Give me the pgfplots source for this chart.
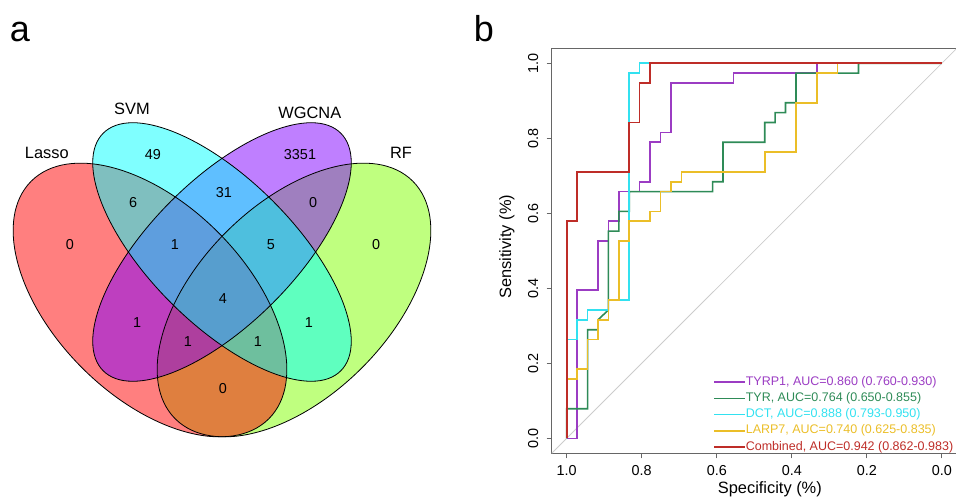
\documentclass[border=0pt]{standalone}
\usepackage{fontspec}
\setmainfont{Liberation Sans}
\usepackage{pgfplots}
\pgfplotsset{compat=1.18}

% venn fills (drawn at 50% opacity)
\definecolor{vRF}{RGB}{127,255,0}
\definecolor{vLasso}{RGB}{255,0,0}
\definecolor{vWG}{RGB}{127,0,255}
\definecolor{vSVM}{RGB}{0,255,255}
% roc curves
\definecolor{cTYRP}{RGB}{155,60,195}
\definecolor{cTYR}{RGB}{46,139,87}
\definecolor{cDCT}{RGB}{50,225,240}
\definecolor{cLARP}{RGB}{235,190,40}
\definecolor{cComb}{RGB}{190,45,40}

\newcommand{\fnum}{\fontsize{14.4}{16}\selectfont}
\newcommand{\fcat}{\fontsize{16.4}{18}\selectfont}

\begin{document}
\begin{tikzpicture}
\useasboundingbox (0,0) rectangle (956pt,501pt);

\node[font=\fontsize{36}{40}\selectfont, anchor=base] at (20pt,459pt) {a};
\node[font=\fontsize{36}{40}\selectfont, anchor=base] at (484pt,459pt) {b};

% ---- panel a: venn
\begin{axis}[at={(-18pt,-24.6pt)}, anchor=south west,
  x=480pt, y=480pt, xmin=0, xmax=1, ymin=0, ymax=1,
  hide axis, clip=false]
\fill[vRF, fill opacity=0.5, rotate around={45:(axis cs:0.65,0.47)}] (axis cs:0.65,0.47) ellipse [x radius=168pt, y radius=96pt];
\fill[vLasso, fill opacity=0.5, rotate around={-45:(axis cs:0.35,0.47)}] (axis cs:0.35,0.47) ellipse [x radius=168pt, y radius=96pt];
\fill[vWG, fill opacity=0.5, rotate around={45:(axis cs:0.5,0.57)}] (axis cs:0.5,0.57) ellipse [x radius=168pt, y radius=72pt];
\fill[vSVM, fill opacity=0.5, rotate around={-45:(axis cs:0.5,0.57)}] (axis cs:0.5,0.57) ellipse [x radius=168pt, y radius=72pt];
\draw[black, line width=0.8pt, rotate around={45:(axis cs:0.65,0.47)}] (axis cs:0.65,0.47) ellipse [x radius=168pt, y radius=96pt];
\draw[black, line width=0.8pt, rotate around={-45:(axis cs:0.35,0.47)}] (axis cs:0.35,0.47) ellipse [x radius=168pt, y radius=96pt];
\draw[black, line width=0.8pt, rotate around={45:(axis cs:0.5,0.57)}] (axis cs:0.5,0.57) ellipse [x radius=168pt, y radius=72pt];
\draw[black, line width=0.8pt, rotate around={-45:(axis cs:0.5,0.57)}] (axis cs:0.5,0.57) ellipse [x radius=168pt, y radius=72pt];

\node[font=\fcat] at (axis cs:0.135,0.776) {Lasso};
\node[font=\fcat] at (axis cs:0.3125,0.868) {SVM};
\node[font=\fcat] at (axis cs:0.683,0.860) {WGCNA};
\node[font=\fcat] at (axis cs:0.873,0.776) {RF};

\node[font=\fnum] at (axis cs:0.356,0.774) {49};
\node[font=\fnum] at (axis cs:0.6625,0.774) {3351};
\node[font=\fnum] at (axis cs:0.504,0.693) {31};
\node[font=\fnum] at (axis cs:0.315,0.672) {6};
\node[font=\fnum] at (axis cs:0.690,0.672) {0};
\node[font=\fnum] at (axis cs:0.183,0.585) {0};
\node[font=\fnum] at (axis cs:0.402,0.585) {1};
\node[font=\fnum] at (axis cs:0.602,0.585) {5};
\node[font=\fnum] at (axis cs:0.821,0.585) {0};
\node[font=\fnum] at (axis cs:0.502,0.474) {4};
\node[font=\fnum] at (axis cs:0.323,0.422) {1};
\node[font=\fnum] at (axis cs:0.681,0.422) {1};
\node[font=\fnum] at (axis cs:0.429,0.3825) {1};
\node[font=\fnum] at (axis cs:0.575,0.3825) {1};
\node[font=\fnum] at (axis cs:0.502,0.285) {0};
\end{axis}

% ---- panel b: ROC curves
\begin{axis}[at={(551.7pt,47.7pt)}, anchor=south west,
  scale only axis, width=436.3pt, height=405pt,
  x dir=reverse, xmin=-0.123, xmax=1.04, ymin=-0.04, ymax=1.04,
  xtick={0,0.2,0.4,0.6,0.8,1}, xticklabels={0.0,0.2,0.4,0.6,0.8,1.0},
  ytick={0,0.2,0.4,0.6,0.8,1}, yticklabels={0.0,0.2,0.4,0.6,0.8,1.0},
  tick pos=left, tick align=outside, major tick length=5pt,
  axis line style={black!60, line width=1.2pt},
  every tick/.style={black!60, line width=1pt},
  tick label style={font=\fnum},
  xticklabel style={yshift=-4pt},
  yticklabel style={xshift=-5pt, rotate=90, anchor=south},
  xlabel={Specificity (\%)}, ylabel={Sensitivity (\%)},
  label style={font=\fcat},
  xlabel style={at={(axis description cs:0.5,-0.088)}, anchor=center},
  ylabel style={at={(axis description cs:-0.1025,0.51)}, anchor=center},
  legend cell align=left,
  legend image code/.code={\draw[#1] (0pt,0pt) -- (24pt,0pt); \path (0pt,0pt) -- (31pt,0pt);},
  legend style={draw=none, fill=none, at={(axis description cs:0.3697,0.0)}, anchor=south west,
    font=\fontsize{12.5}{14}\selectfont, row sep=4.25pt, inner sep=0pt,
    nodes={inner sep=0pt, text height=9pt, text depth=3pt}},
  no markers]

\addplot[color=black!20, line width=0.8pt, forget plot] coordinates {(1.04,-0.04) (-0.04,1.04)};

\addplot[color=cTYRP, line width=1.6pt] coordinates {
(1,0) (0.9722,0) (0.9722,0.3947) (0.9167,0.3947) (0.9167,0.5263) (0.8889,0.5263)
(0.8889,0.5789) (0.8611,0.5789) (0.8611,0.6579) (0.8056,0.6579) (0.8056,0.6842)
(0.7778,0.6842) (0.7778,0.7895) (0.75,0.7895) (0.75,0.8158) (0.7222,0.8158)
(0.7222,0.9474) (0.5556,0.9474) (0.5556,0.9737) (0.3333,0.9737) (0.3333,1) (0,1)};
\addlegendentry[text=cTYRP]{TYRP1, AUC=0.860 (0.760-0.930)}

\addplot[color=cTYR, line width=1.6pt] coordinates {
(1,0) (1,0.0789) (0.9444,0.0789) (0.9444,0.2895) (0.9167,0.2895) (0.9167,0.3158)
(0.8889,0.3421) (0.8889,0.5526) (0.8611,0.5526) (0.8611,0.6053) (0.8333,0.6053)
(0.8333,0.6579) (0.6111,0.6579) (0.6111,0.6842) (0.5833,0.6842) (0.5833,0.7895)
(0.4722,0.7895) (0.4722,0.8421) (0.4444,0.8421) (0.4444,0.8684) (0.4167,0.8684)
(0.4167,0.8947) (0.3889,0.8947) (0.3889,0.9737) (0.2222,0.9737) (0.2222,1) (0,1)};
\addlegendentry[text=cTYR]{TYR, AUC=0.764 (0.650-0.855)}

\addplot[color=cDCT, line width=1.6pt] coordinates {
(1,0) (1,0.2632) (0.9722,0.2632) (0.9722,0.3158) (0.9444,0.3158) (0.9444,0.3421)
(0.8889,0.3421) (0.8889,0.3684) (0.8333,0.3684) (0.8333,0.9737) (0.8056,0.9737)
(0.8056,1) (0,1)};
\addlegendentry[text=cDCT]{DCT, AUC=0.888 (0.793-0.950)}

\addplot[color=cLARP, line width=1.6pt] coordinates {
(1,0) (1,0.1579) (0.9722,0.1579) (0.9722,0.1842) (0.9444,0.1842) (0.9444,0.2632)
(0.9167,0.2632) (0.9167,0.3158) (0.8889,0.3158) (0.8889,0.3684) (0.8611,0.3684)
(0.8611,0.5263) (0.8333,0.5263) (0.8333,0.5789) (0.7778,0.5789) (0.7778,0.6053)
(0.75,0.6053) (0.75,0.6579) (0.7222,0.6579) (0.7222,0.6842) (0.6944,0.6842)
(0.6944,0.7105) (0.4722,0.7105) (0.4722,0.7632) (0.3889,0.7632) (0.3889,0.8947)
(0.3333,0.8947) (0.3333,0.9737) (0.2778,0.9737) (0.2778,1) (0,1)};
\addlegendentry[text=cLARP]{LARP7, AUC=0.740 (0.625-0.835)}

\addplot[color=cComb, line width=1.6pt] coordinates {
(1,0) (1,0.5789) (0.9722,0.5789) (0.9722,0.7105) (0.8333,0.7105) (0.8333,0.8421)
(0.8056,0.8421) (0.8056,0.9474) (0.7778,0.9474) (0.7778,1) (0,1)};
\addlegendentry[text=cComb]{Combined, AUC=0.942 (0.862-0.983)}
\end{axis}
\end{tikzpicture}
\end{document}
